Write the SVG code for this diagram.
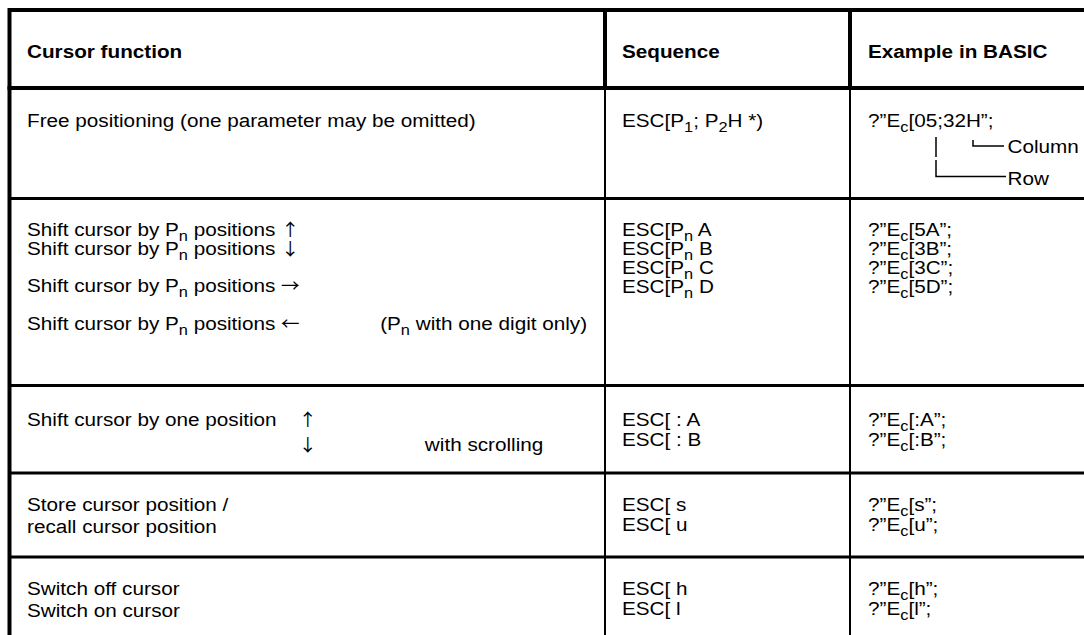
<svg xmlns="http://www.w3.org/2000/svg" width="1084" height="635" viewBox="0 0 1084 635">
<style>
text{font-family:"Liberation Sans",Arial,sans-serif;font-size:19px;fill:#000}
.h{font-weight:bold}
.s{font-size:15px}
.a{font-family:"Noto Sans CJK JP","DejaVu Sans",sans-serif;font-size:17px}
.thick{stroke:#000;stroke-width:4;fill:none}
.row{stroke:#000;stroke-width:3;fill:none}
.thin{stroke:#000;stroke-width:2;fill:none}
.con{stroke:#000;stroke-width:1.5;fill:none}
</style>
<rect width="1084" height="635" fill="#fff"/>
<g id="grid">
<path class="thick" d="M9.5 635 V10 H1084"/>
<path class="thick" d="M7.5 88 H1084"/>
<path class="thick" d="M605 10 V88 M850 10 V88"/>
<path class="thin" d="M605 88 V635 M850 88 V635"/>
<path class="row" d="M9.5 198.5 H1084 M9.5 385.5 H1084 M9.5 473 H1084 M9.5 557 H1084"/>
</g>
<g id="col-function" transform="matrix(1.09 0 0 1 27 0)">
<text class="h" x="0" y="58">Cursor function</text>
<text x="0" y="127">Free positioning (one parameter may be omitted)</text>
<text x="0" y="236">Shift cursor by P<tspan class="s" dy="5">n</tspan><tspan dy="-5"> positions </tspan><tspan class="a">↑</tspan></text>
<text x="0" y="255">Shift cursor by P<tspan class="s" dy="5">n</tspan><tspan dy="-5"> positions </tspan><tspan class="a">↓</tspan></text>
<text x="0" y="292">Shift cursor by P<tspan class="s" dy="5">n</tspan><tspan dy="-5"> positions </tspan><tspan class="a">→</tspan></text>
<text x="0" y="330">Shift cursor by P<tspan class="s" dy="5">n</tspan><tspan dy="-5"> positions </tspan><tspan class="a">←</tspan></text>
<text x="324" y="330">(P<tspan class="s" dy="5">n</tspan><tspan dy="-5"> with one digit only)</tspan></text>
<text x="0" y="426">Shift cursor by one position<tspan class="a" x="249">↑</tspan></text>
<text class="a" x="249" y="451">↓</text>
<text x="365" y="451">with scrolling</text>
<text x="0" y="511">Store cursor position /</text>
<text x="0" y="533">recall cursor position</text>
<text x="0" y="595">Switch off cursor</text>
<text x="0" y="617">Switch on cursor</text>
</g>
<g id="col-sequence" transform="matrix(1.09 0 0 1 622 0)">
<text class="h" x="0" y="58">Sequence</text>
<text x="0" y="127">ESC[P<tspan class="s" dy="5">1</tspan><tspan dy="-5">; P</tspan><tspan class="s" dy="5">2</tspan><tspan dy="-5">H *)</tspan></text>
<text x="0" y="236">ESC[P<tspan class="s" dy="5">n</tspan><tspan dy="-5"> A</tspan></text>
<text x="0" y="255">ESC[P<tspan class="s" dy="5">n</tspan><tspan dy="-5"> B</tspan></text>
<text x="0" y="274">ESC[P<tspan class="s" dy="5">n</tspan><tspan dy="-5"> C</tspan></text>
<text x="0" y="293">ESC[P<tspan class="s" dy="5">n</tspan><tspan dy="-5"> D</tspan></text>
<text x="0" y="426">ESC[ : A</text>
<text x="0" y="446">ESC[ : B</text>
<text x="0" y="511">ESC[ s</text>
<text x="0" y="531">ESC[ u</text>
<text x="0" y="595">ESC[ h</text>
<text x="0" y="615">ESC[ l</text>
</g>
<g id="col-basic" transform="matrix(1.09 0 0 1 868 0)">
<text class="h" x="0" y="58">Example in BASIC</text>
<text x="0" y="127">?”E<tspan class="s" dy="5">c</tspan><tspan dy="-5">[05;32H”;</tspan></text>
<text x="128" y="153">Column</text>
<text x="128" y="185">Row</text>
<text x="0" y="236">?”E<tspan class="s" dy="5">c</tspan><tspan dy="-5">[5A”;</tspan></text>
<text x="0" y="255">?”E<tspan class="s" dy="5">c</tspan><tspan dy="-5">[3B”;</tspan></text>
<text x="0" y="274">?”E<tspan class="s" dy="5">c</tspan><tspan dy="-5">[3C”;</tspan></text>
<text x="0" y="293">?”E<tspan class="s" dy="5">c</tspan><tspan dy="-5">[5D”;</tspan></text>
<text x="0" y="426">?”E<tspan class="s" dy="5">c</tspan><tspan dy="-5">[:A”;</tspan></text>
<text x="0" y="446">?”E<tspan class="s" dy="5">c</tspan><tspan dy="-5">[:B”;</tspan></text>
<text x="0" y="511">?”E<tspan class="s" dy="5">c</tspan><tspan dy="-5">[s”;</tspan></text>
<text x="0" y="531">?”E<tspan class="s" dy="5">c</tspan><tspan dy="-5">[u”;</tspan></text>
<text x="0" y="595">?”E<tspan class="s" dy="5">c</tspan><tspan dy="-5">[h”;</tspan></text>
<text x="0" y="615">?”E<tspan class="s" dy="5">c</tspan><tspan dy="-5">[l”;</tspan></text>
</g>
<g id="connectors">
<path class="con" d="M936 137 V157 M936 160 V176.5 H1006 M973 140 V146 H1004"/>
</g>
</svg>
